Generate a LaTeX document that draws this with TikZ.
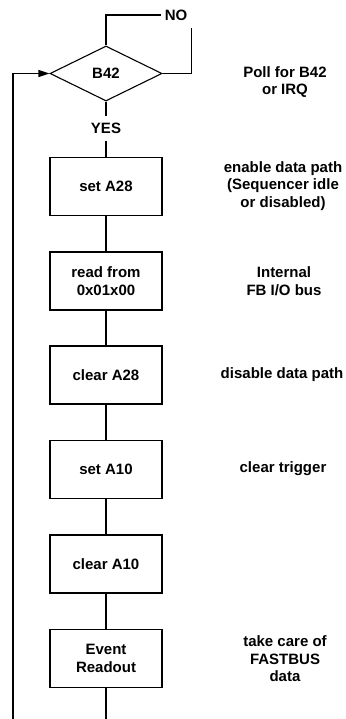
\documentclass[tikz,border=0pt]{standalone}
\usepackage{fontspec}
\setmainfont{Liberation Sans}
\usetikzlibrary{shapes.geometric,arrows.meta}
\begin{document}
\begin{tikzpicture}[x=1pt,y=-1pt,
  every node/.style={font=\fontsize{15}{17.5}\selectfont\bfseries},
  conn/.style={line width=1.1pt},
  stepbox/.style={draw,line width=1.1pt,minimum width=112pt,minimum height=58pt,inner sep=0pt,align=center},
  note/.style={align=center,inner sep=0pt},
  lab/.style={fill=white,inner sep=0pt}]
\useasboundingbox (0,0) rectangle (345,719);
\node[draw,line width=1.1pt,shape=diamond,aspect=2,minimum width=112pt,minimum height=55pt,inner sep=0pt] (d) at (106,73.5) {B42};
\node[stepbox] (b1) at (106,186.5) {set A28};
\node[stepbox] (b2) at (106,281) {read from\\0x01x00};
\node[stepbox] (b3) at (106,375) {clear A28};
\node[stepbox] (b4) at (106,469.5) {set A10};
\node[stepbox] (b5) at (106,564) {clear A10};
\node[stepbox] (b6) at (106,658.5) {Event\\Readout};
\node[lab,minimum width=30pt,minimum height=26pt] (no) at (176,15) {NO};
\node[lab,minimum width=34pt,minimum height=25pt] (yes) at (106,128.5) {YES};
\node[note] (t0) at (285,82) {Poll for B42\\or IRQ};
\node[note] (t1) at (283,186) {enable data path\\(Sequencer idle\\or disabled)};
\node[note] (t2) at (284,281) {Internal\\FB I/O bus};
\node[note] (t3) at (282,375) {disable data path};
\node[note] (t4) at (283,469) {clear trigger};
\node[note] (t6) at (285,659) {take care of\\FASTBUS\\data};
\coordinate (fb) at (13,719);
\coordinate (bot) at (106,719);
\draw[conn] (d.north) |- (no.west);
\draw[conn] (d.east) -| (no.south east);
\draw[conn] (d.south) -- (yes);
\draw[conn] (yes) -- (b1);
\draw[conn] (b1) -- (b2);
\draw[conn] (b2) -- (b3);
\draw[conn] (b3) -- (b4);
\draw[conn] (b4) -- (b5);
\draw[conn] (b5) -- (b6);
\draw[conn] (b6) -- (bot);
\draw[conn,-{Triangle[length=11pt,width=7pt]}] (fb) |- (d.west);
\end{tikzpicture}
\end{document}
